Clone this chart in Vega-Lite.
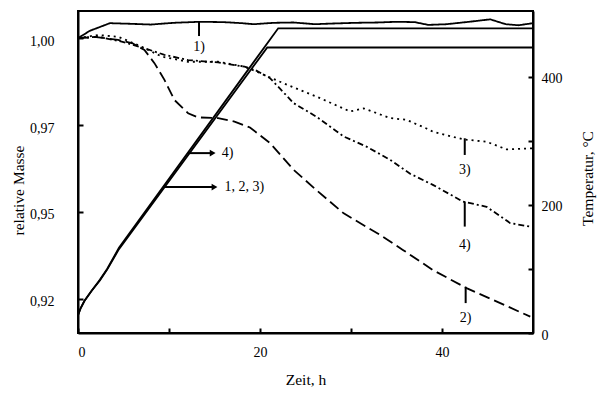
{
  "$schema": "https://vega.github.io/schema/vega-lite/v6.json",
  "width": 455,
  "height": 322,
  "autosize": {"type": "none"},
  "padding": {"left": 78, "top": 11, "right": 67, "bottom": 64},
  "background": "white",
  "config": {
    "font": "Liberation Serif",
    "view": {"stroke": "black", "strokeWidth": 2},
    "axis": {
      "domainColor": "black", "domainWidth": 2,
      "tickColor": "black", "tickWidth": 2, "tickSize": -5,
      "labelFont": "Liberation Serif", "labelFontSize": 14, "labelColor": "black",
      "titleFont": "Liberation Serif", "titleFontSize": 15.5, "titleFontWeight": "normal", "titleColor": "black",
      "grid": false
    },
    "text": {"font": "Liberation Serif", "fontSize": 14, "color": "black"}
  },
  "datasets": {
    "mass": [
      {"s": "1", "t": 0, "m": 1.0},
      {"s": "1", "t": 1.3, "m": 1.0021},
      {"s": "1", "t": 3.5, "m": 1.0043},
      {"s": "1", "t": 6, "m": 1.0041},
      {"s": "1", "t": 8, "m": 1.0039},
      {"s": "1", "t": 10.5, "m": 1.0044},
      {"s": "1", "t": 13.4, "m": 1.0047},
      {"s": "1", "t": 16, "m": 1.0046},
      {"s": "1", "t": 18, "m": 1.0043},
      {"s": "1", "t": 19.3, "m": 1.004},
      {"s": "1", "t": 21.5, "m": 1.0044},
      {"s": "1", "t": 23.7, "m": 1.0045},
      {"s": "1", "t": 26, "m": 1.004},
      {"s": "1", "t": 28, "m": 1.0042},
      {"s": "1", "t": 30.5, "m": 1.0044},
      {"s": "1", "t": 33, "m": 1.0045},
      {"s": "1", "t": 35, "m": 1.0047},
      {"s": "1", "t": 37, "m": 1.0046},
      {"s": "1", "t": 38.5, "m": 1.0038},
      {"s": "1", "t": 40.5, "m": 1.004},
      {"s": "1", "t": 43, "m": 1.0047},
      {"s": "1", "t": 45.3, "m": 1.0054},
      {"s": "1", "t": 47, "m": 1.004},
      {"s": "1", "t": 48.4, "m": 1.0037},
      {"s": "1", "t": 50, "m": 1.0043},
      {"s": "2", "t": 0, "m": 1.0},
      {"s": "2", "t": 2, "m": 1.0003},
      {"s": "2", "t": 4.4, "m": 0.9995},
      {"s": "2", "t": 6, "m": 0.9985},
      {"s": "2", "t": 7.3, "m": 0.9966},
      {"s": "2", "t": 8.4, "m": 0.9928},
      {"s": "2", "t": 9.5, "m": 0.988},
      {"s": "2", "t": 10.6, "m": 0.9822},
      {"s": "2", "t": 12.1, "m": 0.9784},
      {"s": "2", "t": 13.2, "m": 0.9772},
      {"s": "2", "t": 15.4, "m": 0.977},
      {"s": "2", "t": 17.2, "m": 0.976},
      {"s": "2", "t": 18.9, "m": 0.9743},
      {"s": "2", "t": 21.1, "m": 0.9698},
      {"s": "2", "t": 23.7, "m": 0.9621},
      {"s": "2", "t": 26.2, "m": 0.9563},
      {"s": "2", "t": 29.2, "m": 0.9496},
      {"s": "2", "t": 33.2, "m": 0.9434},
      {"s": "2", "t": 35.7, "m": 0.9391},
      {"s": "2", "t": 39.0, "m": 0.9333},
      {"s": "2", "t": 42.7, "m": 0.9281},
      {"s": "2", "t": 46.4, "m": 0.9238},
      {"s": "2", "t": 49.7, "m": 0.9199},
      {"s": "3", "t": 0, "m": 1.0},
      {"s": "3", "t": 2.2, "m": 1.0009},
      {"s": "3", "t": 4.4, "m": 1.0004},
      {"s": "3", "t": 6.6, "m": 0.998},
      {"s": "3", "t": 9.2, "m": 0.9947},
      {"s": "3", "t": 12.1, "m": 0.9932},
      {"s": "3", "t": 15.4, "m": 0.9932},
      {"s": "3", "t": 18.3, "m": 0.9918},
      {"s": "3", "t": 19.5, "m": 0.9905},
      {"s": "3", "t": 22.6, "m": 0.987},
      {"s": "3", "t": 26.2, "m": 0.9832},
      {"s": "3", "t": 29.9, "m": 0.9789},
      {"s": "3", "t": 31.4, "m": 0.9798},
      {"s": "3", "t": 34.3, "m": 0.977},
      {"s": "3", "t": 36.1, "m": 0.9765},
      {"s": "3", "t": 38.3, "m": 0.974},
      {"s": "3", "t": 39.0, "m": 0.9731},
      {"s": "3", "t": 42.3, "m": 0.9709},
      {"s": "3", "t": 44.9, "m": 0.9702},
      {"s": "3", "t": 47.1, "m": 0.968},
      {"s": "3", "t": 49.9, "m": 0.9683},
      {"s": "4", "t": 0, "m": 1.0},
      {"s": "4", "t": 2.2, "m": 1.0004},
      {"s": "4", "t": 4.8, "m": 0.999},
      {"s": "4", "t": 7.3, "m": 0.9971},
      {"s": "4", "t": 9.5, "m": 0.9952},
      {"s": "4", "t": 12.1, "m": 0.9937},
      {"s": "4", "t": 15.4, "m": 0.993},
      {"s": "4", "t": 18.3, "m": 0.9918},
      {"s": "4", "t": 19.5, "m": 0.9908},
      {"s": "4", "t": 21.1, "m": 0.9885},
      {"s": "4", "t": 23.7, "m": 0.9813},
      {"s": "4", "t": 26.2, "m": 0.9774},
      {"s": "4", "t": 29.2, "m": 0.9717},
      {"s": "4", "t": 31.7, "m": 0.9688},
      {"s": "4", "t": 34.3, "m": 0.965},
      {"s": "4", "t": 36.5, "m": 0.961},
      {"s": "4", "t": 39.0, "m": 0.9578},
      {"s": "4", "t": 42.3, "m": 0.953},
      {"s": "4", "t": 44.9, "m": 0.9515},
      {"s": "4", "t": 47.5, "m": 0.9468},
      {"s": "4", "t": 49.7, "m": 0.9458}
    ],
    "labels": [
      {"label": "1)", "t": 13.3, "y1": 1.0047, "y2": 1.0006, "ty": 0.9975},
      {"label": "3)", "t": 42.5, "y1": 0.9712, "y2": 0.9664, "ty": 0.9621},
      {"label": "4)", "t": 42.5, "y1": 0.953, "y2": 0.9458, "ty": 0.9405},
      {"label": "2)", "t": 42.6, "y1": 0.9285, "y2": 0.9238, "ty": 0.9194}
    ],
    "temp": [
      {"s": "A", "t": 0, "T": 28},
      {"s": "A", "t": 0.3, "T": 39},
      {"s": "A", "t": 0.7, "T": 50},
      {"s": "A", "t": 1.5, "T": 66},
      {"s": "A", "t": 2.4, "T": 83},
      {"s": "A", "t": 3.2, "T": 100},
      {"s": "A", "t": 4.5, "T": 133},
      {"s": "A", "t": 22.0, "T": 476},
      {"s": "A", "t": 50, "T": 476},
      {"s": "B", "t": 0, "T": 28},
      {"s": "B", "t": 0.3, "T": 39},
      {"s": "B", "t": 0.7, "T": 50},
      {"s": "B", "t": 1.5, "T": 66},
      {"s": "B", "t": 2.4, "T": 82},
      {"s": "B", "t": 3.2, "T": 99},
      {"s": "B", "t": 4.5, "T": 131},
      {"s": "B", "t": 20.8, "T": 446},
      {"s": "B", "t": 50, "T": 446}
    ],
    "arrows": [
      {"label": "4)", "t1": 12.1, "t2": 14.8, "T": 281, "tl": 15.8},
      {"label": "1, 2, 3)", "t1": 9.4, "t2": 15.0, "T": 228, "tl": 16.1}
    ]
  },
  "layer": [
    {
      "layer": [
        {
          "data": {"name": "mass"},
          "mark": {"type": "line", "color": "black", "strokeWidth": 1.8},
          "encoding": {
            "x": {"field": "t", "type": "quantitative", "title": "Zeit, h",
              "scale": {"domain": [0, 50], "nice": false},
              "axis": {"values": [0, 10, 20, 30, 40], "labelExpr": "datum.value % 20 == 0 ? datum.label : ''",
                "labelPadding": 17, "titleY": 46, "titleBaseline": "middle"}},
            "y": {"field": "m", "type": "quantitative", "title": "relative Masse",
              "scale": {"domain": [0.9152, 1.0078], "nice": false, "zero": false},
              "axis": {"values": [0.925, 0.95, 0.975, 1.0],
                "labelExpr": "datum.value > 0.99 ? '1,00' : datum.value > 0.96 ? '0,97' : datum.value > 0.94 ? '0,95' : '0,92'",
                "labelPadding": 29, "labelBaseline": "middle", "labelOffset": 3,
                "titleX": -60, "titleY": 179, "titleAngle": 270, "titleBaseline": "middle", "titleAlign": "center"}},
            "detail": {"field": "s"},
            "strokeDash": {"field": "s", "type": "nominal", "legend": null,
              "scale": {"domain": ["1", "2", "3", "4"], "range": [[1, 0], [11, 5], [2, 4], [6, 3, 2, 3]]}}
          }
        },
        {
          "data": {"name": "labels"},
          "mark": {"type": "rule", "color": "black", "strokeWidth": 2},
          "encoding": {
            "x": {"field": "t", "type": "quantitative", "title": "Zeit, h"},
            "y": {"field": "y1", "type": "quantitative", "title": "relative Masse"},
            "y2": {"field": "y2"}
          }
        },
        {
          "data": {"name": "labels"},
          "mark": {"type": "text", "align": "center", "baseline": "middle", "fontSize": 14},
          "encoding": {
            "x": {"field": "t", "type": "quantitative", "title": "Zeit, h"},
            "y": {"field": "ty", "type": "quantitative", "title": "relative Masse"},
            "text": {"field": "label"}
          }
        }
      ]
    },
    {
      "layer": [
        {
          "data": {"name": "temp"},
          "mark": {"type": "line", "color": "black", "strokeWidth": 1.8},
          "encoding": {
            "x": {"field": "t", "type": "quantitative", "title": "Zeit, h"},
            "y": {"field": "T", "type": "quantitative", "title": "Temperatur, °C",
              "scale": {"domain": [0, 503], "nice": false},
              "axis": {"orient": "right", "values": [0, 100, 200, 300, 400],
                "labelExpr": "datum.value % 200 == 0 ? datum.label : ''",
                "labelPadding": 13, "labelBaseline": "middle", "labelOffset": 2,
                "titleX": 54, "titleY": 167, "titleAngle": 270, "titleBaseline": "middle", "titleAlign": "center"}},
            "detail": {"field": "s"}
          }
        },
        {
          "data": {"name": "arrows"},
          "mark": {"type": "rule", "color": "black", "strokeWidth": 2},
          "encoding": {
            "x": {"field": "t1", "type": "quantitative", "title": "Zeit, h"},
            "x2": {"field": "t2"},
            "y": {"field": "T", "type": "quantitative", "title": "Temperatur, °C"}
          }
        },
        {
          "data": {"name": "arrows"},
          "mark": {"type": "point", "shape": "triangle-right", "filled": true, "color": "black", "size": 45, "opacity": 1},
          "encoding": {
            "x": {"field": "t2", "type": "quantitative", "title": "Zeit, h"},
            "y": {"field": "T", "type": "quantitative", "title": "Temperatur, °C"}
          }
        },
        {
          "data": {"name": "arrows"},
          "mark": {"type": "text", "align": "left", "baseline": "middle", "fontSize": 14},
          "encoding": {
            "x": {"field": "tl", "type": "quantitative", "title": "Zeit, h"},
            "y": {"field": "T", "type": "quantitative", "title": "Temperatur, °C"},
            "text": {"field": "label"}
          }
        }
      ]
    }
  ],
  "resolve": {"scale": {"y": "independent"}}
}
